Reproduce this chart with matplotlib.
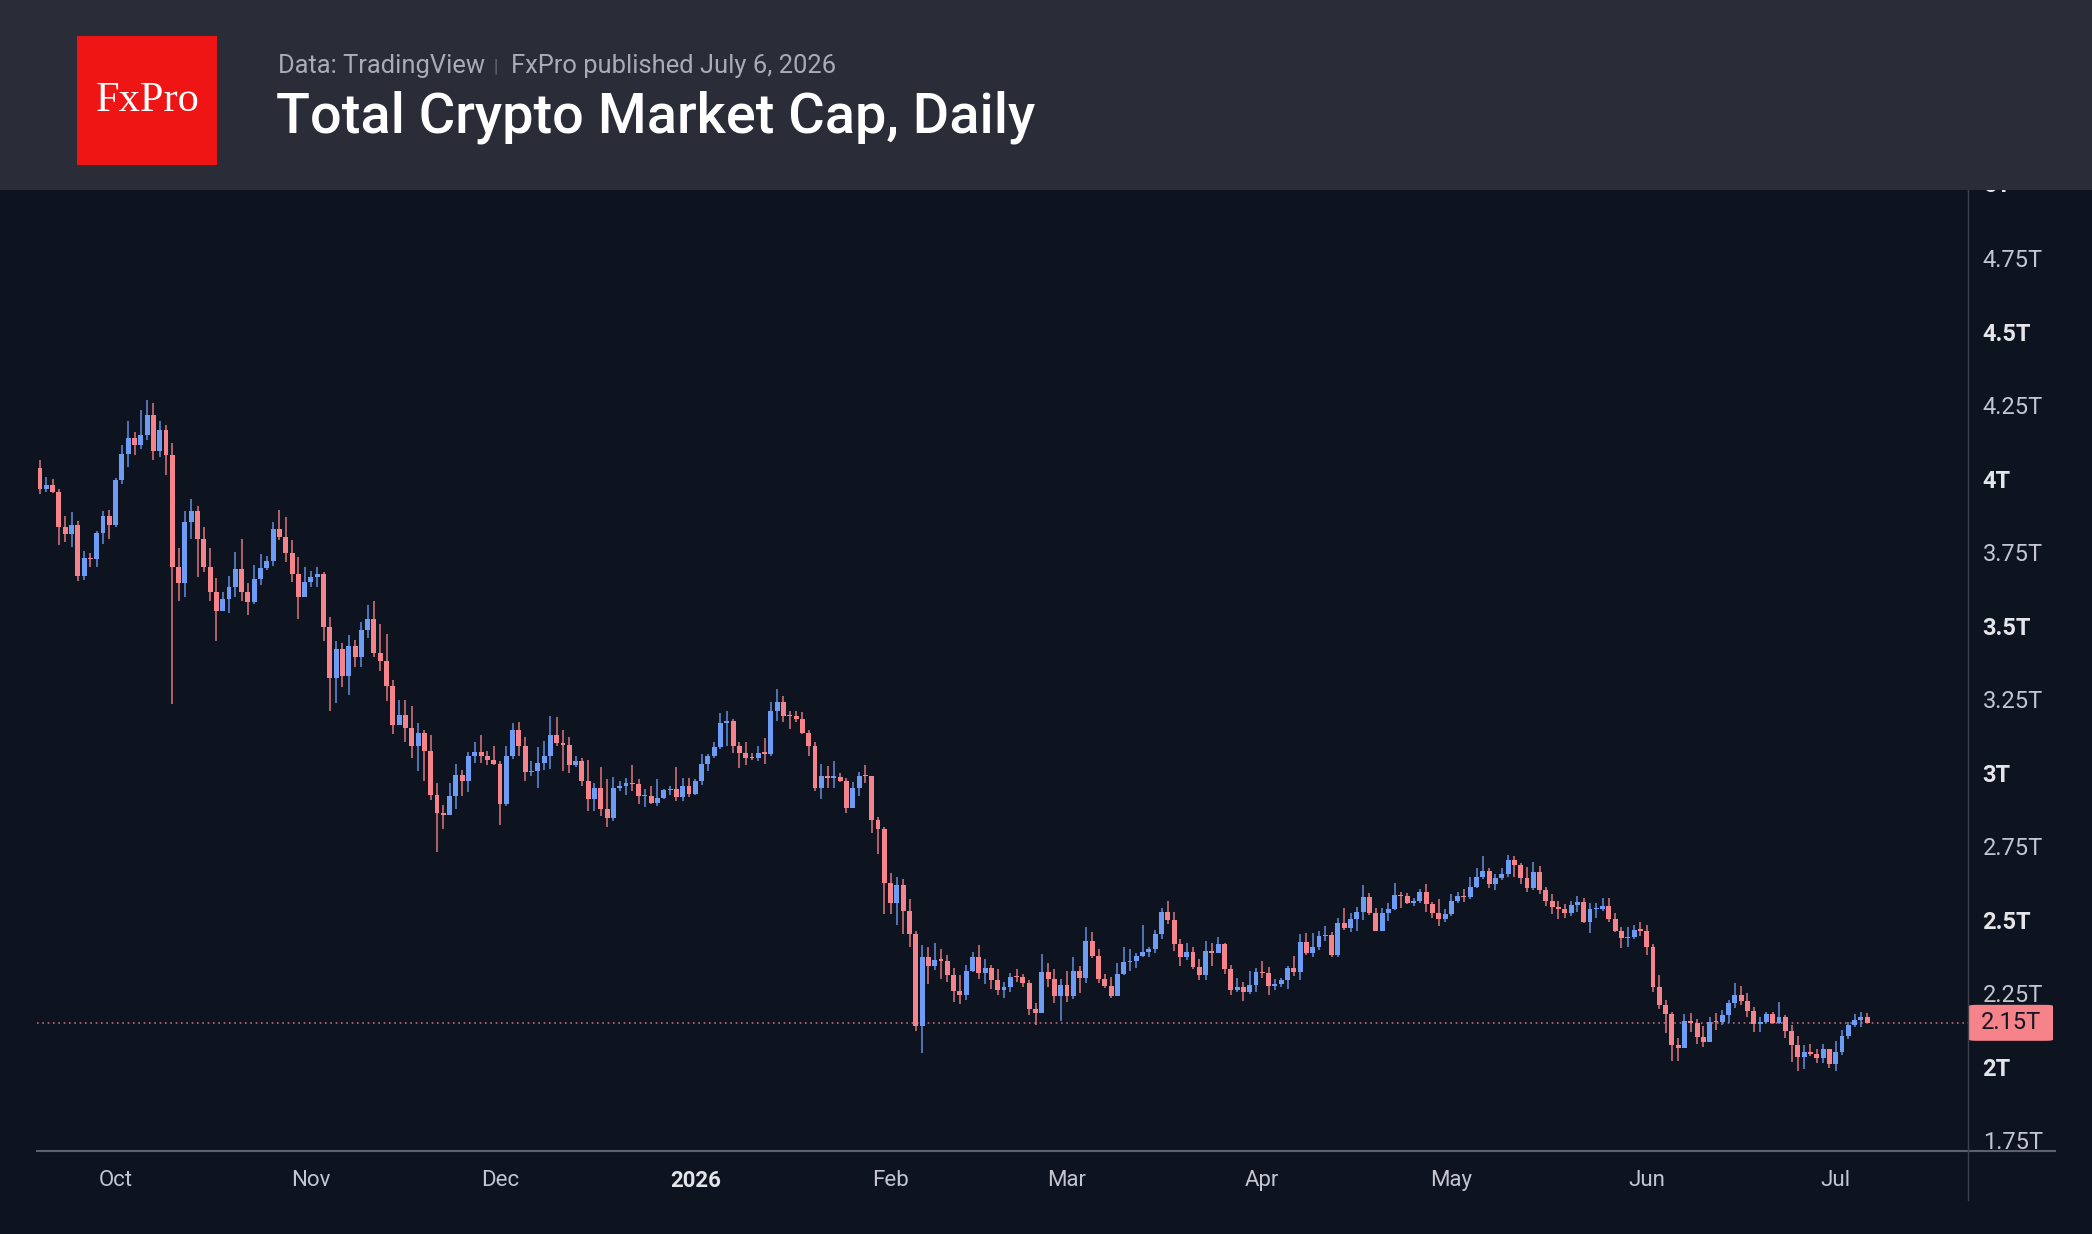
import numpy as np
import pandas as pd
import matplotlib
matplotlib.use('Agg')
import matplotlib.pyplot as plt
import matplotlib.dates as mdates
import matplotlib.transforms as mtransforms
from matplotlib.patches import Rectangle, FancyBboxPatch
from matplotlib.lines import Line2D

# daily candles, values in trillions USD (first candle = 2025-09-19)
first_day = '2025-09-19'
first_open = 4.037
closes = [
    3.965, 3.980, 3.956, 3.835, 3.813, 3.845, 3.670, 3.730, 3.728, 3.815,
    3.874, 3.845, 3.997, 4.085, 4.140, 4.116, 4.148, 4.218, 4.096, 4.165,
    4.080, 3.699, 3.645, 3.853, 3.890, 3.796, 3.702, 3.617, 3.551, 3.592,
    3.633, 3.694, 3.614, 3.580, 3.661, 3.698, 3.722, 3.829, 3.804, 3.747,
    3.678, 3.600, 3.649, 3.665, 3.677, 3.495, 3.322, 3.420, 3.331, 3.432,
    3.396, 3.487, 3.525, 3.407, 3.380, 3.297, 3.163, 3.197, 3.154, 3.090,
    3.137, 3.073, 2.925, 2.863, 2.856, 2.920, 2.993, 2.974, 3.059, 3.070,
    3.058, 3.044, 3.032, 2.894, 3.056, 3.146, 3.090, 3.002, 3.007, 3.035,
    3.056, 3.129, 3.101, 3.095, 3.027, 3.040, 2.974, 2.912, 2.948, 2.876,
    2.848, 2.948, 2.957, 2.965, 2.963, 2.922, 2.923, 2.897, 2.914, 2.942,
    2.945, 2.917, 2.957, 2.929, 2.971, 3.031, 3.056, 3.087, 3.169, 3.178,
    3.090, 3.069, 3.052, 3.050, 3.067, 3.066, 3.211, 3.243, 3.195, 3.193,
    3.183, 3.135, 3.093, 2.950, 2.990, 2.984, 2.985, 2.973, 2.880, 2.950,
    2.990, 2.988, 2.840, 2.808, 2.627, 2.557, 2.619, 2.532, 2.451, 2.139,
    2.373, 2.345, 2.364, 2.362, 2.311, 2.258, 2.245, 2.326, 2.373, 2.321,
    2.335, 2.296, 2.262, 2.273, 2.307, 2.305, 2.287, 2.197, 2.185, 2.322,
    2.299, 2.242, 2.278, 2.242, 2.326, 2.304, 2.428, 2.377, 2.299, 2.275,
    2.242, 2.315, 2.356, 2.362, 2.377, 2.392, 2.401, 2.451, 2.528, 2.500,
    2.418, 2.373, 2.392, 2.341, 2.311, 2.396, 2.389, 2.417, 2.332, 2.262,
    2.271, 2.254, 2.278, 2.322, 2.320, 2.275, 2.282, 2.296, 2.335, 2.324,
    2.426, 2.389, 2.409, 2.445, 2.449, 2.381, 2.491, 2.474, 2.503, 2.528,
    2.577, 2.525, 2.464, 2.525, 2.536, 2.585, 2.582, 2.557, 2.565, 2.596,
    2.553, 2.525, 2.503, 2.519, 2.565, 2.582, 2.577, 2.613, 2.645, 2.667,
    2.622, 2.642, 2.655, 2.704, 2.687, 2.644, 2.610, 2.662, 2.602, 2.565,
    2.545, 2.536, 2.523, 2.551, 2.560, 2.494, 2.536, 2.537, 2.548, 2.503,
    2.462, 2.438, 2.441, 2.466, 2.464, 2.409, 2.271, 2.209, 2.180, 2.075,
    2.066, 2.156, 2.151, 2.103, 2.086, 2.154, 2.152, 2.177, 2.216, 2.245,
    2.225, 2.190, 2.145, 2.154, 2.180, 2.148, 2.169, 2.123, 2.075, 2.033,
    2.052, 2.043, 2.029, 2.060, 2.009, 2.052, 2.105, 2.143, 2.160, 2.171,
    2.150,
]
highs = [
    4.063, 4.006, 4.000, 3.967, 3.874, 3.887, 3.857, 3.755, 3.747, 3.823,
    3.891, 3.895, 4.005, 4.116, 4.198, 4.161, 4.235, 4.269, 4.260, 4.198,
    4.182, 4.124, 3.764, 3.891, 3.932, 3.908, 3.838, 3.764, 3.662, 3.617,
    3.670, 3.751, 3.796, 3.645, 3.708, 3.744, 3.738, 3.855, 3.895, 3.870,
    3.793, 3.736, 3.699, 3.687, 3.702, 3.685, 3.532, 3.449, 3.441, 3.470,
    3.453, 3.513, 3.572, 3.585, 3.506, 3.473, 3.316, 3.248, 3.248, 3.228,
    3.169, 3.146, 3.129, 2.965, 2.891, 2.965, 3.031, 3.010, 3.070, 3.104,
    3.129, 3.076, 3.092, 3.039, 3.092, 3.169, 3.175, 3.121, 3.039, 3.087,
    3.109, 3.195, 3.192, 3.146, 3.121, 3.056, 3.050, 3.044, 2.965, 3.019,
    2.979, 2.985, 2.971, 2.982, 3.027, 2.979, 2.945, 2.954, 2.979, 2.945,
    2.954, 3.019, 2.982, 2.982, 2.979, 3.065, 3.065, 3.104, 3.203, 3.211,
    3.183, 3.104, 3.104, 3.067, 3.090, 3.118, 3.240, 3.286, 3.262, 3.211,
    3.211, 3.206, 3.146, 3.104, 3.031, 3.024, 3.041, 2.999, 2.982, 2.970,
    3.002, 3.027, 2.990, 2.851, 2.817, 2.659, 2.645, 2.638, 2.571, 2.462,
    2.415, 2.409, 2.421, 2.401, 2.381, 2.335, 2.311, 2.347, 2.392, 2.415,
    2.367, 2.347, 2.332, 2.290, 2.318, 2.332, 2.315, 2.296, 2.216, 2.384,
    2.353, 2.332, 2.298, 2.328, 2.373, 2.343, 2.477, 2.458, 2.400, 2.315,
    2.307, 2.353, 2.409, 2.401, 2.389, 2.483, 2.409, 2.466, 2.540, 2.565,
    2.528, 2.434, 2.423, 2.409, 2.367, 2.428, 2.421, 2.441, 2.420, 2.347,
    2.304, 2.290, 2.328, 2.335, 2.360, 2.339, 2.298, 2.304, 2.343, 2.377,
    2.451, 2.455, 2.455, 2.462, 2.479, 2.458, 2.508, 2.540, 2.523, 2.545,
    2.619, 2.593, 2.542, 2.542, 2.557, 2.625, 2.596, 2.593, 2.576, 2.604,
    2.621, 2.562, 2.571, 2.536, 2.588, 2.596, 2.604, 2.647, 2.676, 2.718,
    2.678, 2.655, 2.676, 2.721, 2.718, 2.695, 2.679, 2.698, 2.684, 2.613,
    2.588, 2.565, 2.553, 2.565, 2.582, 2.574, 2.557, 2.557, 2.574, 2.574,
    2.523, 2.475, 2.475, 2.483, 2.492, 2.483, 2.417, 2.311, 2.228, 2.186,
    2.097, 2.180, 2.185, 2.163, 2.139, 2.169, 2.182, 2.194, 2.228, 2.287,
    2.275, 2.253, 2.203, 2.169, 2.188, 2.188, 2.220, 2.177, 2.143, 2.106,
    2.075, 2.077, 2.060, 2.077, 2.061, 2.089, 2.126, 2.154, 2.180, 2.188,
    2.182,
]
lows = [
    3.948, 3.957, 3.952, 3.776, 3.784, 3.768, 3.653, 3.657, 3.702, 3.702,
    3.779, 3.796, 3.835, 3.983, 4.042, 4.082, 4.102, 4.133, 4.065, 4.074,
    4.014, 3.235, 3.586, 3.600, 3.796, 3.668, 3.682, 3.586, 3.449, 3.551,
    3.543, 3.600, 3.586, 3.538, 3.575, 3.640, 3.691, 3.705, 3.793, 3.719,
    3.648, 3.525, 3.597, 3.634, 3.634, 3.449, 3.212, 3.237, 3.291, 3.266,
    3.362, 3.360, 3.458, 3.396, 3.348, 3.245, 3.133, 3.162, 3.104, 3.052,
    3.007, 2.974, 2.908, 2.732, 2.810, 2.856, 2.877, 2.920, 2.934, 3.035,
    3.035, 3.027, 3.027, 2.823, 2.886, 3.048, 3.056, 2.971, 2.991, 2.950,
    3.010, 3.015, 3.090, 3.007, 3.001, 3.019, 2.957, 2.872, 2.872, 2.852,
    2.815, 2.835, 2.937, 2.925, 2.937, 2.895, 2.883, 2.894, 2.888, 2.912,
    2.925, 2.906, 2.906, 2.917, 2.925, 2.959, 3.008, 3.052, 3.081, 3.092,
    3.069, 3.016, 3.027, 3.044, 3.039, 3.031, 3.059, 3.178, 3.175, 3.150,
    3.175, 3.133, 3.056, 2.939, 2.911, 2.950, 2.950, 2.970, 2.863, 2.880,
    2.922, 2.965, 2.797, 2.725, 2.520, 2.520, 2.483, 2.451, 2.409, 2.122,
    2.049, 2.282, 2.330, 2.299, 2.290, 2.222, 2.213, 2.228, 2.324, 2.299,
    2.282, 2.265, 2.245, 2.233, 2.254, 2.288, 2.273, 2.177, 2.143, 2.185,
    2.271, 2.216, 2.156, 2.222, 2.230, 2.250, 2.284, 2.369, 2.287, 2.267,
    2.233, 2.242, 2.311, 2.328, 2.336, 2.373, 2.373, 2.386, 2.434, 2.485,
    2.394, 2.345, 2.364, 2.332, 2.296, 2.296, 2.345, 2.387, 2.316, 2.243,
    2.256, 2.225, 2.248, 2.254, 2.304, 2.243, 2.262, 2.273, 2.265, 2.309,
    2.294, 2.381, 2.373, 2.398, 2.430, 2.375, 2.373, 2.466, 2.460, 2.464,
    2.500, 2.517, 2.464, 2.464, 2.497, 2.534, 2.540, 2.553, 2.549, 2.557,
    2.528, 2.508, 2.479, 2.492, 2.515, 2.557, 2.560, 2.570, 2.610, 2.639,
    2.610, 2.602, 2.636, 2.645, 2.647, 2.622, 2.596, 2.602, 2.588, 2.549,
    2.520, 2.503, 2.508, 2.515, 2.528, 2.491, 2.455, 2.508, 2.531, 2.494,
    2.458, 2.406, 2.409, 2.434, 2.445, 2.381, 2.254, 2.197, 2.114, 2.021,
    2.021, 2.066, 2.118, 2.078, 2.069, 2.084, 2.126, 2.143, 2.148, 2.202,
    2.209, 2.171, 2.120, 2.120, 2.148, 2.146, 2.146, 2.100, 2.018, 1.987,
    1.993, 2.037, 2.012, 2.012, 1.998, 1.987, 2.041, 2.094, 2.135, 2.137,
    2.148,
]
last_price = 2.15

price_ticks = [1.75, 2.0, 2.25, 2.5, 2.75, 3.0, 3.25, 3.5, 3.75, 4.0, 4.25, 4.5, 4.75, 5.0]
price_labels = ['1.75T', '2T', '2.25T', '2.5T', '2.75T', '3T', '3.25T', '3.5T',
                '3.75T', '4T', '4.25T', '4.5T', '4.75T', '5T']
month_ticks = ['2025-10-01', '2025-11-01', '2025-12-01', '2026-01-01', '2026-02-01',
               '2026-03-01', '2026-04-01', '2026-05-01', '2026-06-01', '2026-07-01']
month_labels = ['Oct', 'Nov', 'Dec', '2026', 'Feb', 'Mar', 'Apr', 'May', 'Jun', 'Jul']

# colours
BG = '#0e1320'
HEADER = '#2a2d38'
UP = '#6d9cf5'
DOWN = '#f7838a'
LOGO_RED = '#f01515'
LABEL = '#c3c6ce'
LABEL_BOLD = '#e3e5ea'

dates = pd.date_range(first_day, periods=len(closes), freq='D')
x = mdates.date2num(dates)
o = np.array([first_open] + closes[:-1])
c = np.array(closes)
h = np.array(highs)
l = np.array(lows)

W, H = 2092, 1234
fig = plt.figure(figsize=(W / 100, H / 100), dpi=100, facecolor=BG)
ax = fig.add_axes([37 / W, (H - 1151) / H, (1968 - 37) / W, (1151 - 190) / H])
ax.set_facecolor(BG)

# candles
col = np.where(c >= o, UP, DOWN)
ax.vlines(x, l, h, colors=col, linewidth=1.4, alpha=0.7, zorder=2)
ax.bar(x, np.maximum(np.abs(c - o), 0.004), bottom=np.minimum(o, c), width=0.78,
       color=col, linewidth=0, zorder=3)

# last price line
ax.axhline(last_price, color=DOWN, linewidth=1.2, linestyle=(0, (1, 2.2)), alpha=0.75, zorder=1)

x0 = mdates.date2num(pd.Timestamp(first_day))
ax.set_xlim(x0 - 0.48, x0 + 306)
ax.set_ylim(1.714, 4.983)

for sp in ax.spines.values():
    sp.set_visible(False)

# y axis on the right
ax.yaxis.tick_right()
ax.set_yticks(price_ticks[:-1])
ax.set_yticklabels(price_labels[:-1])
ax.tick_params(axis='y', length=0, pad=10.5)
for v, lab in zip(price_ticks[:-1], ax.get_yticklabels()):
    lab.set_family('Roboto')
    lab.set_fontsize(17)
    if v * 2 == int(v * 2):
        lab.set_fontweight('bold')
        lab.set_color(LABEL_BOLD)
    else:
        lab.set_color(LABEL)

# 5T label partly hidden under the header
trans = mtransforms.blended_transform_factory(ax.transAxes, ax.transData)
ax.text(1 + 16 / 1931, price_ticks[-1], price_labels[-1], transform=trans, family='Roboto',
        ha='left', va='center', fontsize=17, fontweight='bold', color=LABEL_BOLD, clip_on=False)

# last price tag
tag_h = 36 / 294
ax.add_patch(FancyBboxPatch((1 + 1 / 1931, last_price - tag_h / 2), 84 / 1931, tag_h,
                            boxstyle='round,pad=0,rounding_size=0.004', transform=trans,
                            facecolor=DOWN, edgecolor='none', clip_on=False, zorder=6))
ax.text(1 + 43 / 1931, last_price, '%.2fT' % last_price, transform=trans, family='Roboto',
        ha='center', va='center', fontsize=17, color='#131722', clip_on=False, zorder=7)

# x axis
ax.set_xticks(mdates.date2num(pd.to_datetime(month_ticks)))
ax.set_xticklabels(month_labels)
ax.tick_params(axis='x', length=0, pad=14)
for lab in ax.get_xticklabels():
    lab.set_family('Roboto')
    lab.set_fontsize(16)
    lab.set_color(LABEL)
    if lab.get_text() == '2026':
        lab.set_fontweight('bold')
        lab.set_color(LABEL_BOLD)

# axis lines
fig.lines.append(Line2D([37 / W, 2055 / W], [(H - 1151) / H] * 2, transform=fig.transFigure,
                        color='#5d606b', linewidth=1.5))
fig.lines.append(Line2D([1968 / W] * 2, [(H - 1200) / H, (H - 190) / H], transform=fig.transFigure,
                        color='#3d414c', linewidth=1))

# header band
fig.patches.append(Rectangle((0, (H - 190) / H), 1, 190 / H, transform=fig.transFigure,
                             facecolor=HEADER, edgecolor='none', zorder=10))
fig.patches.append(Rectangle((77 / W, (H - 165) / H), 140 / W, 129 / H, transform=fig.transFigure,
                             facecolor=LOGO_RED, edgecolor='none', zorder=11))
fig.text(148 / W, (H - 101) / H, 'FxPro', family='Liberation Serif', fontsize=30.5,
         color='white', ha='center', va='center', zorder=12)

fig.text(278 / W, (H - 73) / H, 'Data: TradingView', family='Roboto', fontsize=18.4,
         color='#a9acb5', va='baseline', zorder=12)
fig.text(496 / W, (H - 72) / H, '|', family='Roboto', fontsize=13,
         color='#6b6f7a', ha='center', va='baseline', zorder=12)
fig.text(511 / W, (H - 73) / H, 'FxPro published July 6, 2026', family='Roboto', fontsize=18.4,
         color='#a9acb5', va='baseline', zorder=12)
fig.text(276 / W, (H - 132) / H, 'Total Crypto Market Cap, Daily', family='Roboto',
         fontsize=40.2, fontweight='medium', color='white', va='baseline', zorder=12)

fig.savefig('out.png', dpi=100, facecolor=BG)
